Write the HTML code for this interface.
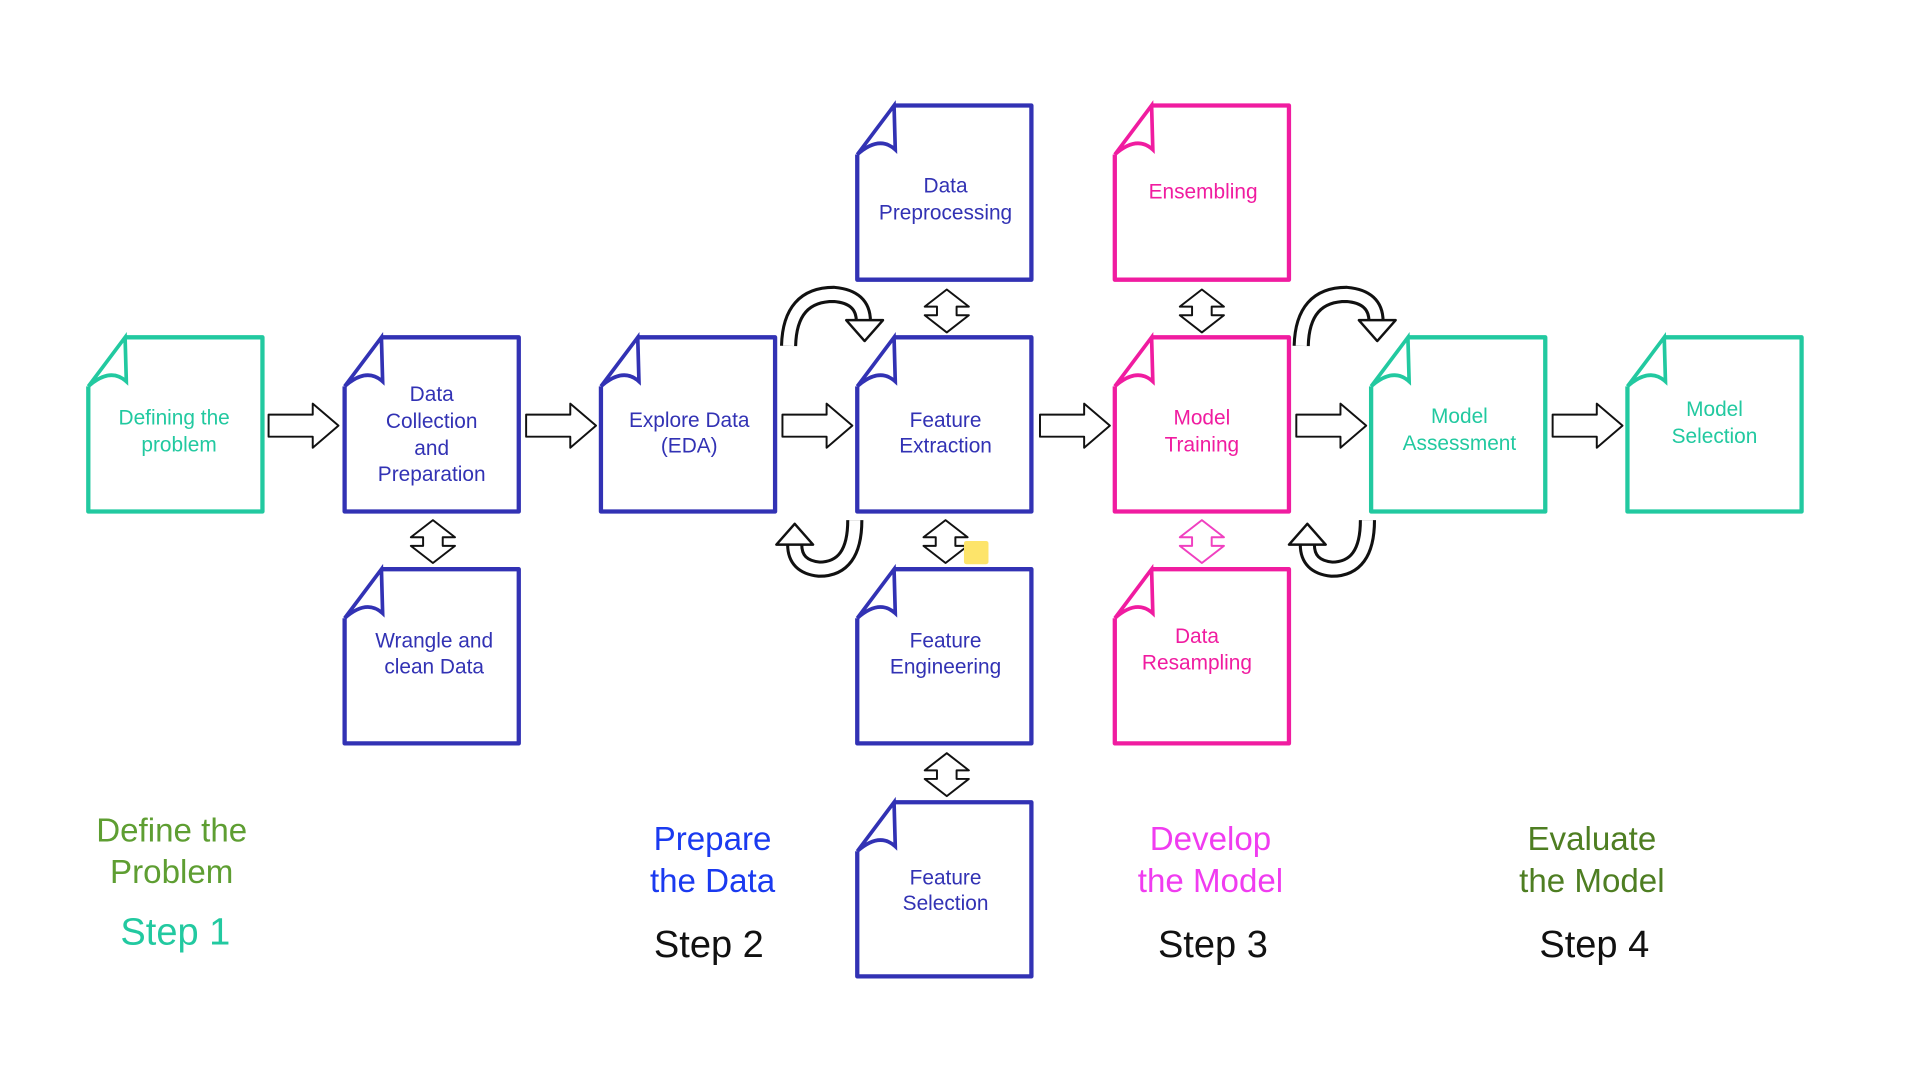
<!DOCTYPE html>
<html><head><meta charset="utf-8">
<style>
html,body{margin:0;padding:0;background:#fff;}
svg{display:block;}
.bt{font-family:"Liberation Sans Narrow","Liberation Sans",sans-serif;font-size:17px;text-anchor:middle;}
.lb{font-family:"Liberation Sans",sans-serif;font-size:27px;text-anchor:middle;}
.st{font-family:"Liberation Sans Narrow","Liberation Sans",sans-serif;font-size:31px;text-anchor:middle;}
</style></head>
<body>
<svg width="1923" height="1077" viewBox="0 0 1568 878" preserveAspectRatio="none" xmlns="http://www.w3.org/2000/svg">
<defs>
<g id="box">
  <path d="M30 0 L142 0 L142 142 L0 142 L0 40" fill="none" stroke-width="3.5" stroke-linejoin="round"/>
  <path d="M0 40 L30 0 L31 36 Q18 24 0 40" fill="none" stroke-width="3"/>
</g>
<g id="rarr">
  <path d="M0 -9 L36 -9 L36 -18 L57 0 L36 18 L36 9 L0 9 Z" fill="#fff" stroke="#111" stroke-width="1.6" stroke-linejoin="round"/>
</g>
<g id="varr">
  <path d="M0 0 L18 14 L8 14 L8 21 L18 21 L0 35 L-18 21 L-8 21 L-8 14 L-18 14 Z" fill="#fff" stroke-width="1.6" stroke-linejoin="round"/>
</g>
</defs>

<g stroke="#22c9a0"><use href="#box" x="72" y="275"/><use href="#box" x="1118" y="275"/><use href="#box" x="1327" y="275"/></g>
<g stroke="#3232b4"><use href="#box" x="281" y="275"/><use href="#box" x="490" y="275"/><use href="#box" x="699" y="275"/><use href="#box" x="699" y="86"/><use href="#box" x="281" y="464"/><use href="#box" x="699" y="464"/><use href="#box" x="699" y="654"/></g>
<g stroke="#f01ca0"><use href="#box" x="909" y="86"/><use href="#box" x="909" y="275"/><use href="#box" x="909" y="464"/></g>

<use href="#rarr" x="219" y="347"/><use href="#rarr" x="429" y="347"/><use href="#rarr" x="638" y="347"/>
<use href="#rarr" x="848" y="347"/><use href="#rarr" x="1057" y="347"/><use href="#rarr" x="1266" y="347"/>

<g stroke="#111"><use href="#varr" x="353" y="424"/><use href="#varr" x="772" y="236"/><use href="#varr" x="980" y="236"/><use href="#varr" x="771" y="424"/><use href="#varr" x="772" y="614"/></g>
<g stroke="#f040c0"><use href="#varr" x="980" y="424"/></g>
<rect x="786" y="441" width="20" height="19" rx="2" fill="#fde46a"/>

<g id="arch">
<path d="M643 282 Q644 240 680 240 Q704 242 704 262" fill="none" stroke="#111" stroke-width="14" stroke-linecap="butt"/>
<path d="M643 282 Q644 240 680 240 Q704 242 704 262" fill="none" stroke="#fff" stroke-width="9"/>
<path d="M690 261 L720 261 L705 278 Z" fill="#fff" stroke="#111" stroke-width="2" stroke-linejoin="round"/>
</g>
<use href="#arch" x="418" y="0"/>
<g id="uarr">
<path d="M697 424 Q697 464 668 464 Q648 462 648 444" fill="none" stroke="#111" stroke-width="14"/>
<path d="M697 424 Q697 464 668 464 Q648 462 648 444" fill="none" stroke="#fff" stroke-width="9"/>
<path d="M633 444 L648 427 L663 444 Z" fill="#fff" stroke="#111" stroke-width="2" stroke-linejoin="round"/>
</g>
<use href="#uarr" x="418" y="0"/>

<g class="bt" fill="#22c9a0">
<text x="142" y="346">Defining the</text><text x="146" y="368">problem</text>
<text x="1190" y="345">Model</text><text x="1190" y="367">Assessment</text>
<text x="1398" y="339">Model</text><text x="1398" y="361">Selection</text>
</g>
<g class="bt" fill="#3232b4">
<text x="352" y="327">Data</text><text x="352" y="349">Collection</text><text x="352" y="371">and</text><text x="352" y="392">Preparation</text>
<text x="562" y="348">Explore Data</text><text x="562" y="369">(EDA)</text>
<text x="771" y="157">Data</text><text x="771" y="179">Preprocessing</text>
<text x="771" y="348">Feature</text><text x="771" y="369">Extraction</text>
<text x="354" y="528">Wrangle and</text><text x="354" y="549">clean Data</text>
<text x="771" y="528">Feature</text><text x="771" y="549">Engineering</text>
<text x="771" y="721">Feature</text><text x="771" y="742">Selection</text>
</g>
<g class="bt" fill="#f01ca0">
<text x="981" y="162">Ensembling</text>
<text x="980" y="346">Model</text><text x="980" y="368">Training</text>
<text x="976" y="524">Data</text><text x="976" y="546">Resampling</text>
</g>

<g class="lb">
<text x="140" y="686" fill="#5e9e32">Define the</text><text x="140" y="720" fill="#5e9e32">Problem</text>
<text x="581" y="693" fill="#1a3af0">Prepare</text><text x="581" y="727" fill="#1a3af0">the Data</text>
<text x="987" y="693" fill="#f03cf0">Develop</text><text x="987" y="727" fill="#f03cf0">the Model</text>
<text x="1298" y="693" fill="#4e7e22">Evaluate</text><text x="1298" y="727" fill="#4e7e22">the Model</text>
</g>
<g class="st">
<text x="143" y="770" fill="#22c9a0">Step 1</text>
<text x="578" y="780" fill="#111">Step 2</text>
<text x="989" y="780" fill="#111">Step 3</text>
<text x="1300" y="780" fill="#111">Step 4</text>
</g>
</svg>
</body></html>
